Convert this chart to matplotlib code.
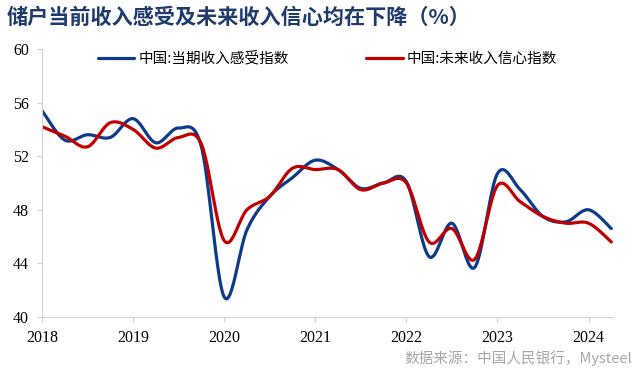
import numpy as np
import matplotlib

matplotlib.use("Agg")
import matplotlib.pyplot as plt  # noqa: E402

plt.rcParams["font.family"] = ["Liberation Serif", "Noto Sans CJK SC", "DejaVu Sans"]

# quarterly survey values, 2018Q1 .. 2024Q2
quarters = [f"{y}Q{q}" for y in range(2018, 2025) for q in range(1, 5)][:26]
income_now = [55.4, 53.2, 53.6, 53.4, 54.8, 53.0, 54.1, 52.7,
               41.5, 46.5, 49.0, 50.4, 51.7, 51.0, 49.6, 50.0,
               50.1, 44.5, 47.0, 43.7, 50.7, 49.5, 47.5, 47.1,
               48.0, 46.6]
income_future = [54.2, 53.5, 52.7, 54.5, 54.0, 52.6, 53.4, 52.9,
                  45.7, 48.0, 49.0, 51.1, 51.0, 51.0, 49.5, 50.0,
                  50.0, 45.6, 46.6, 44.3, 49.8, 48.6, 47.5, 47.0,
                  47.0, 45.6]
labels = ["中国:当期收入感受指数", "中国:未来收入信心指数"]
years = list(range(2018, 2025))

BLUE = "#0d3a8a"
RED = "#c00000"


def smooth(x, y, n=24):
    """Excel-style smoothed line (Catmull-Rom through every point)."""
    x = np.asarray(x, float)
    y = np.asarray(y, float)
    px = np.concatenate([[x[0]], x, [x[-1]]])
    py = np.concatenate([[y[0]], y, [y[-1]]])
    xs, ys = [], []
    t = np.linspace(0, 1, n, endpoint=False)
    for i in range(1, len(px) - 2):
        p0, p1, p2, p3 = (np.array([px[j], py[j]]) for j in range(i - 1, i + 3))
        c1 = p1 + (p2 - p0) / 6
        c2 = p2 - (p3 - p1) / 6
        b = ((1 - t) ** 3)[:, None] * p1 + (3 * (1 - t) ** 2 * t)[:, None] * c1 \
            + (3 * (1 - t) * t ** 2)[:, None] * c2 + (t ** 3)[:, None] * p2
        xs.extend(b[:, 0])
        ys.extend(b[:, 1])
    xs.append(x[-1])
    ys.append(y[-1])
    return xs, ys


xq = [int(q[:4]) + (int(q[-1]) - 1) * 0.25 for q in quarters]

fig = plt.figure(figsize=(6.4, 3.84), dpi=100)
ax = fig.add_axes([0.0656, 0.1745, 0.8924, 0.698])
for vals, col, lab in ((income_now, BLUE, labels[0]), (income_future, RED, labels[1])):
    sx, sy = smooth(xq, vals)
    ax.plot(sx, sy, color=col, lw=2.3, label=lab, solid_capstyle="round")

ax.set_xlim(2018, 2024.27)
ax.set_ylim(40, 60)
ax.set_yticks(range(40, 61, 4))
ax.set_xticks(years)
ax.set_xticklabels([str(y) for y in years])
ax.tick_params(labelsize=11.5, length=3.5, width=0.8, color="#d0d0d0", pad=6)
for s in ("top", "right"):
    ax.spines[s].set_visible(False)
for s in ("left", "bottom"):
    ax.spines[s].set_color("#d0d0d0")
    ax.spines[s].set_linewidth(0.8)

leg = ax.legend(loc="upper center", bbox_to_anchor=(0.5, 1.04), ncol=2, frameon=False,
                handlelength=2.5, handletextpad=0.3, columnspacing=5.3,
                prop={"family": ["Noto Sans CJK SC"], "size": 10.5})

fig.text(0.011, 0.955, "储户当前收入感受及未来收入信心均在下降（%）", color="#1f3a6e",
         fontsize=15.2, fontweight="bold", family=["Noto Sans CJK SC"], va="center")
fig.text(0.988, 0.068, "数据来源：中国人民银行，Mysteel", color="#a6a6a6", ha="right",
         fontsize=10.5, family=["Noto Sans CJK SC", "Liberation Serif"], va="center")

fig.savefig("out.png", dpi=100)
